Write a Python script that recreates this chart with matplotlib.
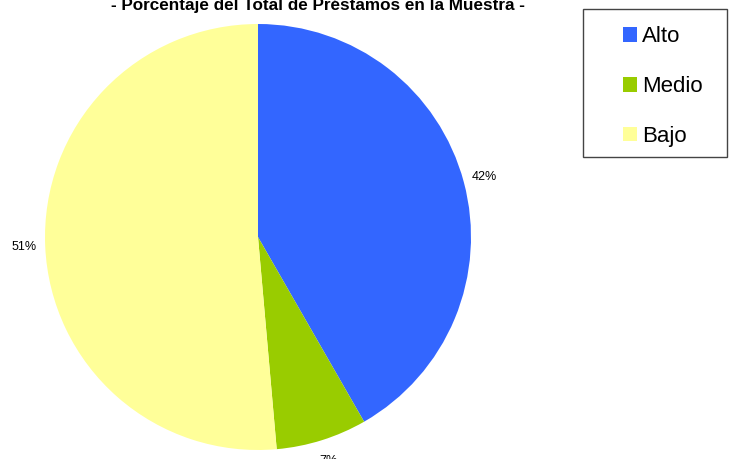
import matplotlib
matplotlib.use("Agg")
import matplotlib.pyplot as plt
from matplotlib.patches import Patch, Rectangle

plt.rcParams['font.family'] = ['Liberation Sans', 'DejaVu Sans']

# datos del grafico
categorias = ["Alto", "Medio", "Bajo"]
porcentajes = [41.7, 6.9, 51.4]
colores = ["#3366FF", "#99CC00", "#FFFF99"]
titulo = "- Porcentaje del Total de Préstamos en la Muestra -"

W, H = 729, 459
fig = plt.figure(figsize=(W / 100, H / 100), dpi=100)

# pie: centro (258, 237), radio 213 px
cx, cy, r = 258, 237, 213
ax = fig.add_axes([(cx - r) / W, (H - cy - r) / H, 2 * r / W, 2 * r / H])
wedges, textos = ax.pie(
    porcentajes,
    colors=colores,
    startangle=90,
    counterclock=False,
    labels=[f"{p:.0f}%" for p in porcentajes],
    labeldistance=1.1,
    textprops={'fontsize': 9},
)
for t in textos:
    t.set_horizontalalignment('center')
    t.set_verticalalignment('center')
ax.set_xlim(-1, 1)
ax.set_ylim(-1, 1)
ax.set_aspect('auto')
ax.axis('off')

# titulo (cortado arriba, como en el original)
fig.text(318 / W, 1 - 10 / H, titulo, ha='center', va='baseline',
         fontsize=12.3, fontweight='bold')

# marco de la leyenda
fig.patches.append(Rectangle((583 / W, 1 - 157 / H), 144 / W, 148 / H,
                             transform=fig.transFigure, fill=False,
                             edgecolor='#444444', linewidth=1))

handles = [Patch(facecolor=c, edgecolor='none') for c in colores]
fig.legend(handles, categorias, loc='upper left',
           bbox_to_anchor=(623 / W, 1 - 26 / H), frameon=False,
           fontsize=16, handlelength=0.65, handleheight=0.65,
           handletextpad=0.22, labelspacing=1.3, borderpad=0,
           borderaxespad=0)

fig.savefig("out.png", dpi=100)
